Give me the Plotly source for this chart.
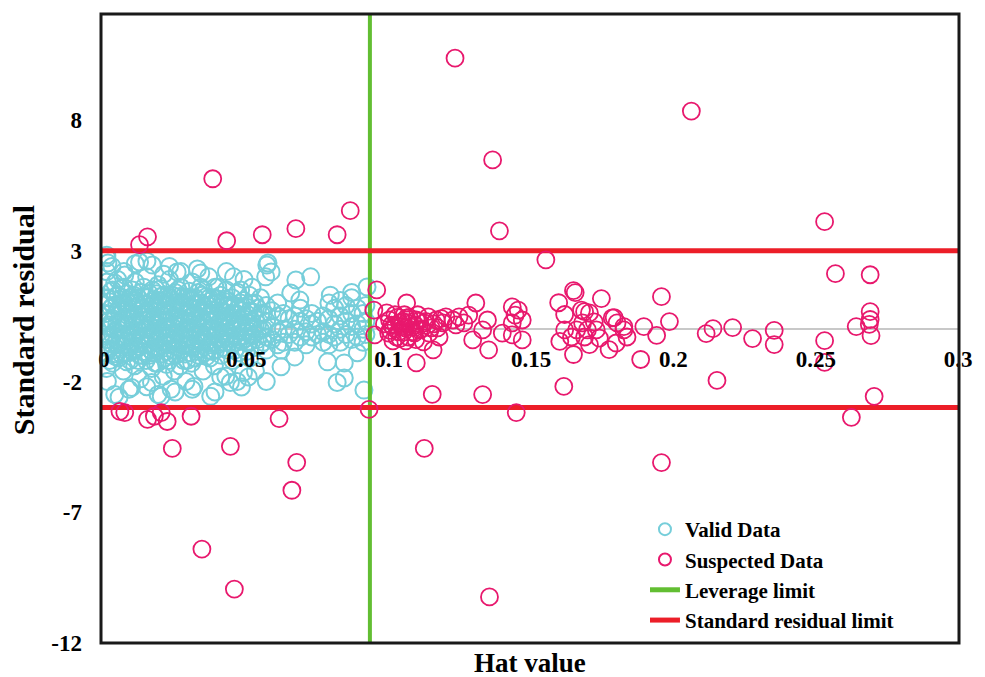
import plotly.graph_objects as go

# ---------------- data ----------------
leverage_limit = 0.0934
residual_limit = 3.0
x_range = [-0.00104, 0.3003]
y_range = [-12.0, 12.05]
y_tickvals = [-12, -7, -2, 3, 8]
y_ticktext = ["-12", "-7", "-2", "3", "8"]
x_tickvals = [0, 0.05, 0.1, 0.15, 0.2, 0.25, 0.3]
x_ticktext = ["0", "0.05", "0.1", "0.15", "0.2", "0.25", "0.3"]

# Valid data (hat value, standard residual) - dense core
valid_core_a = [
    (0.001, 2.73), (0.001, 2.2), (0.0012, 1.8), (0.001, 1.2), (0.0008, 0.6), (0.001, 0.1), (0.0011, -0.4), (0.0009, -0.9), (0.001, -1.5), (0.0012, -2.0),
    (0.003, 1.5), (0.0032, 0.9), (0.0029, 0.3), (0.003, -0.2), (0.0031, -0.8), (0.003, -1.3), (0.0028, 2.4),
    (0.005, 1.3), (0.0052, 0.7), (0.0049, 0.0), (0.005, -0.6), (0.0051, -1.1), (0.0053, -2.6), (0.0048, 1.9),
    (0.007, 1.6), (0.0071, 1.0), (0.0069, 0.4), (0.007, -0.3), (0.0072, -0.9), (0.0068, -1.6), (0.007, 2.2),
    (0.009, 1.2), (0.0091, 0.6), (0.0089, -0.1), (0.009, -0.7), (0.0092, -1.2), (0.0088, -2.3),
    (0.011, 1.8), (0.0112, 1.1), (0.0109, 0.5), (0.011, -0.2), (0.0111, -0.8), (0.0108, -1.4), (0.011, 2.5),
    (0.013, 1.4), (0.0131, 0.8), (0.0129, 0.2), (0.013, -0.4), (0.0132, -1.0), (0.0128, -1.9),
    (0.015, 2.0), (0.0151, 1.2), (0.0149, 0.6), (0.015, 0.0), (0.0152, -0.6), (0.0148, -1.2), (0.015, -2.2), (0.0151, 2.6),
    (0.017, 1.5), (0.0171, 0.9), (0.0169, 0.3), (0.017, -0.3), (0.0172, -0.9), (0.0168, -1.5),
    (0.019, 1.7), (0.0191, 1.1), (0.0189, 0.5), (0.019, -0.1), (0.0192, -0.7), (0.0188, -1.3), (0.019, -2.5),
    (0.021, 1.3), (0.0211, 0.7), (0.0209, 0.1), (0.021, -0.5), (0.0212, -1.1), (0.0208, -1.8), (0.021, 2.1),
    (0.023, 1.9), (0.0231, 1.2), (0.0229, 0.6), (0.023, 0.0), (0.0232, -0.6), (0.0228, -1.2), (0.023, 2.4),
    (0.025, 1.4), (0.0251, 0.8), (0.0249, 0.2), (0.025, -0.4), (0.0252, -1.0), (0.0248, -1.6), (0.025, -2.4),
    (0.027, 1.6), (0.0271, 1.0), (0.0269, 0.4), (0.027, -0.2), (0.0272, -0.8), (0.0268, -1.4), (0.027, 2.2),
    (0.029, 1.2), (0.0291, 0.6), (0.0289, 0.0), (0.029, -0.6), (0.0292, -1.2), (0.0288, -2.0),
    (0.031, 1.8), (0.0311, 1.1), (0.0309, 0.5), (0.031, -0.1), (0.0312, -0.7), (0.0308, -1.3), (0.031, -2.3),
    (0.033, 1.4), (0.0331, 0.8), (0.0329, 0.2), (0.033, -0.4), (0.0332, -1.0), (0.0328, 2.3),
    (0.035, 1.5), (0.0351, 0.9), (0.0349, 0.3), (0.035, -0.3), (0.0352, -0.9), (0.0348, -1.6),
    (0.037, 1.2), (0.0371, 0.6), (0.0369, 0.0), (0.037, -0.6), (0.0372, -1.1), (0.0368, 2.0),
    (0.039, 1.6), (0.0391, 1.0), (0.0389, 0.4), (0.039, -0.2), (0.0392, -0.8), (0.0388, -1.4), (0.039, -2.4),
    (0.041, 1.3), (0.0411, 0.7), (0.0409, 0.1), (0.041, -0.5), (0.0412, -1.0),
    (0.043, 1.5), (0.0431, 0.9), (0.0429, 0.3), (0.043, -0.3), (0.0432, -0.8), (0.0428, -1.8), (0.043, 2.2),
    (0.045, 1.2), (0.0451, 0.6), (0.0449, 0.0), (0.045, -0.6), (0.0452, -1.2),
    (0.047, 1.4), (0.0471, 0.8), (0.0469, 0.2), (0.047, -0.4), (0.0472, -0.9), (0.0468, -2.0),
    (0.049, 1.1), (0.0491, 0.5), (0.0489, -0.1), (0.049, -0.7), (0.0492, 1.9),
    (0.051, 1.3), (0.0511, 0.7), (0.0509, 0.1), (0.051, -0.5), (0.0512, -1.1),
    (0.053, 1.0), (0.0531, 0.4), (0.0529, -0.2), (0.053, -0.7), (0.0532, -1.6),
    (0.055, 1.2), (0.0551, 0.6), (0.0549, 0.0), (0.055, -0.6),
    (0.057, 0.9), (0.0571, 0.3), (0.0569, -0.3), (0.057, -0.8), (0.0572, 2.45), (0.0568, 2.0), (0.057, -2.0),
]

valid_core_b = [
    (0.002, 1.05), (0.002, 0.35), (0.002, -0.25), (0.002, -0.75), (0.002, -1.2),
    (0.004, 1.25), (0.004, 0.55), (0.004, -0.05), (0.004, -0.55), (0.004, -1.05),
    (0.006, 0.95), (0.006, 0.25), (0.006, -0.35), (0.006, -0.95), (0.006, 1.55),
    (0.008, 1.35), (0.008, 0.75), (0.008, 0.15), (0.008, -0.45), (0.008, -1.25),
    (0.010, 1.0), (0.010, 0.4), (0.010, -0.2), (0.010, -0.85), (0.010, 1.5),
    (0.012, 1.2), (0.012, 0.55), (0.012, -0.05), (0.012, -0.65), (0.012, -1.2),
    (0.014, 0.95), (0.014, 0.35), (0.014, -0.25), (0.014, -0.85), (0.014, 1.6),
    (0.016, 1.35), (0.016, 0.75), (0.016, 0.15), (0.016, -0.4), (0.016, -1.0),
    (0.018, 1.0), (0.018, 0.45), (0.018, -0.2), (0.018, -0.75), (0.018, -1.3),
    (0.020, 1.25), (0.020, 0.6), (0.020, 0.0), (0.020, -0.6), (0.020, 1.55),
    (0.022, 0.95), (0.022, 0.35), (0.022, -0.25), (0.022, -0.85), (0.022, -1.35),
    (0.024, 1.3), (0.024, 0.7), (0.024, 0.1), (0.024, -0.45), (0.024, -1.05),
    (0.026, 1.05), (0.026, 0.45), (0.026, -0.15), (0.026, -0.7), (0.026, 1.5),
    (0.028, 1.25), (0.028, 0.55), (0.028, -0.05), (0.028, -0.65), (0.028, -1.2),
    (0.030, 0.9), (0.030, 0.3), (0.030, -0.3), (0.030, -0.9), (0.030, 1.45),
    (0.032, 1.2), (0.032, 0.6), (0.032, 0.0), (0.032, -0.55), (0.032, -1.1),
    (0.034, 1.0), (0.034, 0.4), (0.034, -0.2), (0.034, -0.75), (0.034, 1.6),
    (0.036, 1.25), (0.036, 0.65), (0.036, 0.05), (0.036, -0.5), (0.036, -1.05),
    (0.038, 0.95), (0.038, 0.35), (0.038, -0.25), (0.038, -0.85),
    (0.040, 1.15), (0.040, 0.55), (0.040, -0.05), (0.040, -0.6), (0.040, 1.6),
    (0.042, 0.95), (0.042, 0.35), (0.042, -0.2), (0.042, -0.7),
    (0.044, 1.05), (0.044, 0.45), (0.044, -0.15), (0.044, -0.5),
    (0.046, 0.9), (0.046, 0.3), (0.046, -0.25), (0.046, -0.8),
    (0.048, 1.0), (0.048, 0.35), (0.048, -0.3), (0.048, 1.5),
    (0.050, 0.85), (0.050, 0.25), (0.050, -0.35), (0.050, -0.85),
    (0.052, 0.95), (0.052, 0.3), (0.052, -0.25), (0.052, 1.6),
    (0.054, 0.8), (0.054, 0.2), (0.054, -0.4),
    (0.056, 0.6), (0.056, 0.0), (0.056, -0.5),
]

valid_core_c = [
    (0.0025, 0.8), (0.0025, 0.1), (0.0025, -0.55), (0.0025, 1.45),
    (0.0045, 0.95), (0.0045, 0.2), (0.0045, -0.4), (0.0045, -0.95),
    (0.0065, 0.7), (0.0065, 0.05), (0.0065, -0.6), (0.0065, 1.2),
    (0.0085, 1.0), (0.0085, 0.3), (0.0085, -0.3), (0.0085, -0.9),
    (0.0105, 0.75), (0.0105, 0.1), (0.0105, -0.5), (0.0105, 1.3),
    (0.0125, 0.9), (0.0125, 0.25), (0.0125, -0.35), (0.0125, -1.0),
    (0.0145, 0.65), (0.0145, 0.0), (0.0145, -0.6), (0.0145, 1.25),
    (0.0165, 1.05), (0.0165, 0.45), (0.0165, -0.2), (0.0165, -0.8),
    (0.0185, 0.8), (0.0185, 0.15), (0.0185, -0.45), (0.0185, 1.35),
    (0.0205, 0.95), (0.0205, 0.3), (0.0205, -0.3), (0.0205, -0.95),
    (0.0225, 0.7), (0.0225, 0.05), (0.0225, -0.55), (0.0225, 1.3),
    (0.0245, 1.0), (0.0245, 0.4), (0.0245, -0.2), (0.0245, -0.8),
    (0.0265, 0.75), (0.0265, 0.1), (0.0265, -0.5), (0.0265, 1.25),
    (0.0285, 0.9), (0.0285, 0.25), (0.0285, -0.35), (0.0285, -0.95),
    (0.0305, 0.65), (0.0305, 0.0), (0.0305, -0.6), (0.0305, 1.2),
    (0.0325, 0.95), (0.0325, 0.35), (0.0325, -0.25), (0.0325, -0.85),
    (0.0345, 0.7), (0.0345, 0.1), (0.0345, -0.5), (0.0345, 1.3),
    (0.0365, 0.9), (0.0365, 0.3), (0.0365, -0.3), (0.0365, -0.8),
    (0.0385, 0.7), (0.0385, 0.05), (0.0385, -0.55), (0.0385, 1.2),
    (0.0405, 0.85), (0.0405, 0.25), (0.0405, -0.35),
    (0.0425, 0.65), (0.0425, 0.05), (0.0425, -0.5), (0.0425, 1.15),
    (0.0445, 0.8), (0.0445, 0.2), (0.0445, -0.35),
    (0.0465, 0.6), (0.0465, 0.0), (0.0465, -0.5),
    (0.0485, 0.7), (0.0485, 0.1), (0.0485, -0.45),
    (0.0505, 0.55), (0.0505, -0.05), (0.0505, -0.55),
    (0.0525, 0.65), (0.0525, 0.05),
]

valid_tail = [
    (0.059, 0.7), (0.059, 0.1), (0.059, -0.4), (0.0587, 2.19),
    (0.061, 0.5), (0.061, -0.1), (0.061, -0.6), (0.061, 1.0),
    (0.063, 0.6), (0.063, 0.0), (0.063, -0.5), (0.0622, -1.44), (0.0622, -0.8),
    (0.065, 0.4), (0.065, -0.2), (0.0656, 1.38), (0.0674, 1.88),
    (0.067, 0.5), (0.067, 0.0), (0.067, -0.5), (0.067, -1.06), (0.0688, 1.11),
    (0.069, 0.3), (0.069, -0.3), (0.069, 0.8),
    (0.071, 0.4), (0.071, -0.1), (0.071, -0.6), (0.0726, 2.0),
    (0.073, 0.2), (0.073, -0.3), (0.073, 0.6),
    (0.075, 0.3), (0.075, -0.2), (0.0785, -1.25),
    (0.077, 0.5), (0.077, -0.1), (0.077, -0.5),
    (0.079, 1.0), (0.079, 0.4), (0.079, -0.2), (0.079, -0.6), (0.0795, 1.3),
    (0.081, 0.8), (0.081, 0.2), (0.081, -0.3), (0.0819, -2.04),
    (0.083, 1.1), (0.083, 0.5), (0.083, 0.0), (0.083, -0.5), (0.0844, -1.87),
    (0.085, 0.9), (0.085, 0.3), (0.085, -0.2), (0.0844, -1.29),
    (0.087, 1.2), (0.087, 0.6), (0.087, 0.1), (0.087, -0.4), (0.087, 1.4),
    (0.089, 0.8), (0.089, 0.2), (0.089, -0.3), (0.089, -0.9),
    (0.091, 0.6), (0.091, 0.0), (0.091, -0.5), (0.0913, -2.33),
    (0.0924, 1.61), (0.092, 0.9), (0.092, 0.3), (0.092, -0.2),
]

valid_fringe = [
    (0.001, 2.83), (0.0014, 2.53), (0.0125, 2.57), (0.017, 2.45), (0.0257, 2.19),
    (0.034, 2.15), (0.0455, 2.0), (0.0073, 2.07), (0.0038, 1.76), (0.0576, 2.53),
    (0.0038, -2.5), (0.0097, -2.23), (0.0167, -2.04), (0.0236, -2.3), (0.0316, -2.19),
    (0.0375, -2.57), (0.0444, -2.04), (0.049, -1.66), (0.0201, -2.57), (0.041, -1.83),
    (0.0507, -1.83), (0.0483, -2.21),
]

# Suspected data (hat value, standard residual)
suspect_outer = [
    (0.1233, 10.36), (0.1365, 6.47), (0.1389, 3.76), (0.0382, 5.75), (0.0153, 3.53),
    (0.0125, 3.23), (0.0431, 3.38), (0.0556, 3.61), (0.0674, 3.84), (0.0819, 3.61),
    (0.0865, 4.53), (0.2063, 8.34), (0.2531, 4.11), (0.1552, 2.65), (0.2569, 2.12),
    (0.2691, 2.08), (0.1153, -2.49), (0.1330, -2.50), (0.1448, -3.19), (0.0931, -3.07),
    (0.1125, -4.56), (0.1354, -10.24), (0.0344, -8.41), (0.0458, -9.94), (0.0677, -5.09),
    (0.0660, -6.16), (0.0444, -4.48), (0.0240, -4.56), (0.0615, -3.42), (0.0306, -3.33),
    (0.0222, -3.53), (0.0153, -3.45), (0.0177, -3.33), (0.0073, -3.19), (0.0056, -3.14),
    (0.0201, -3.19), (0.1958, -5.10), (0.2705, -2.57), (0.2625, -3.37), (0.1615, -2.19),
    (0.2153, -1.96),
]

suspect_near = [
    (0.1958, 1.24), (0.1649, 1.47), (0.1655, 1.40), (0.1747, 1.17), (0.1597, 1.01),
    (0.1618, 0.56), (0.1688, 0.67), (0.1792, 0.44), (0.1826, 0.10), (0.1896, 0.10),
    (0.1986, 0.29), (0.1941, -0.24), (0.1885, -1.16), (0.1649, -0.97), (0.1601, -0.47),
    (0.1774, -0.78), (0.1705, -0.59), (0.2115, -0.17), (0.2139, 0.02), (0.2208, 0.06),
    (0.2278, -0.36), (0.2354, -0.05), (0.2354, -0.59), (0.2531, -0.44), (0.2531, -1.27),
    (0.2642, 0.10), (0.2691, 0.67), (0.2691, 0.37), (0.2688, 0.18), (0.2694, -0.25),
    (0.1618, -0.03), (0.1642, -0.30), (0.1660, -0.03), (0.1681, 0.24), (0.1698, -0.03),
    (0.1722, 0.28), (0.1729, -0.03), (0.1705, 0.62), (0.1677, 0.73), (0.1688, -0.30),
    (0.1740, -0.34), (0.1785, 0.43), (0.1802, 0.24), (0.1826, -0.03), (0.1837, -0.30),
    (0.1799, -0.53),
    (0.1003, 0.35), (0.1017, 0.05), (0.1038, 0.24), (0.1052, -0.11), (0.1063, 0.43),
    (0.1080, 0.08), (0.1097, 0.35), (0.1108, -0.03), (0.1125, 0.24), (0.1139, 0.47),
    (0.1149, 0.05), (0.1000, -0.15), (0.1028, -0.30), (0.1069, -0.30), (0.0993, 0.62),
    (0.1167, 0.35), (0.1191, 0.24), (0.1201, 0.47), (0.1226, 0.35), (0.1247, 0.47),
    (0.1264, 0.24), (0.1236, 0.16), (0.1177, -0.30), (0.1122, -0.49), (0.1156, -0.79),
    (0.1097, -1.29), (0.1063, 1.00), (0.0958, 1.50), (0.0948, 0.73), (0.0951, -0.22),
    (0.1306, 1.00), (0.1281, 0.54), (0.1347, 0.35), (0.1330, -0.03), (0.1295, -0.41),
    (0.1351, -0.79), (0.1399, -0.15), (0.1434, 0.85), (0.1455, 0.73), (0.1444, 0.54),
    (0.1469, 0.35), (0.1434, 0.24), (0.1434, -0.22), (0.1469, -0.41),
    (0.1010, 0.15), (0.1045, 0.10), (0.1075, 0.20), (0.1030, 0.45), (0.1090, -0.15),
]

suspect_blob = [
    (0.0985, 0.20), (0.1005, -0.05), (0.1022, 0.55), (0.1035, -0.10), (0.1048, 0.30),
    (0.1058, 0.05), (0.1072, 0.45), (0.1085, -0.10), (0.1093, 0.15), (0.1102, 0.55),
    (0.1115, 0.00), (0.1130, 0.30), (0.1142, -0.15), (0.1158, 0.20), (0.1172, 0.05),
    (0.1185, 0.40), (0.1040, -0.35), (0.1015, -0.45), (0.1060, -0.45), (0.1095, -0.40),
    (0.1105, 0.30), (0.1065, 0.25), (0.1025, 0.15), (0.1055, 0.55),
]

valid_pts = valid_core_a + valid_core_b + valid_core_c + valid_tail + valid_fringe
suspect_pts = suspect_outer + suspect_near + suspect_blob

# ---------------- styling ----------------
CYAN = "rgb(118,206,218)"
MAGENTA = "rgb(232,24,109)"
GREEN = "rgb(98,190,50)"
RED = "rgb(236,30,40)"
FONT = "Liberation Serif"

fig = go.Figure()

fig.add_trace(go.Scatter(
    x=[p[0] for p in valid_pts], y=[p[1] for p in valid_pts],
    mode="markers", name="Valid Data", legendrank=1,
    marker=dict(symbol="circle-open", size=17, color=CYAN, line=dict(width=2)),
))

fig.add_trace(go.Scatter(
    x=[leverage_limit, leverage_limit], y=y_range,
    mode="lines", name="Leverage limit", legendrank=3,
    line=dict(color=GREEN, width=4),
))

fig.add_trace(go.Scatter(
    x=[x_range[0], x_range[1], None, x_range[0], x_range[1]],
    y=[residual_limit, residual_limit, None, -residual_limit, -residual_limit],
    mode="lines", name="Standard residual limit", legendrank=4,
    line=dict(color=RED, width=5),
))

fig.add_trace(go.Scatter(
    x=[p[0] for p in suspect_pts], y=[p[1] for p in suspect_pts],
    mode="markers", name="Suspected Data", legendrank=2,
    marker=dict(symbol="circle-open", size=17, color=MAGENTA, line=dict(width=1.8)),
))

y_zero_frac = (0 - y_range[0]) / (y_range[1] - y_range[0])

fig.update_layout(
    width=985, height=677,
    margin=dict(l=101, r=16, t=14, b=34),
    paper_bgcolor="white", plot_bgcolor="white",
    font=dict(family=FONT, color="black", size=21, weight="bold"),
    showlegend=True,
    legend=dict(
        x=0.634, y=0.213, xanchor="left", yanchor="top",
        bgcolor="rgba(0,0,0,0)", itemsizing="constant",
        font=dict(family=FONT, size=21, color="black", weight="bold"),
        tracegroupgap=0,
    ),
    xaxis=dict(
        range=x_range, tickvals=x_tickvals, ticktext=x_ticktext,
        anchor="free", position=y_zero_frac,
        showgrid=False, zeroline=False, showline=False, ticks="",
        tickfont=dict(family=FONT, size=23, color="black", weight="bold"),
        ticklabelstandoff=14,
    ),
    yaxis=dict(
        range=y_range, tickvals=y_tickvals, ticktext=y_ticktext, showgrid=False,
        zeroline=True, zerolinecolor="rgb(200,200,200)", zerolinewidth=1.5,
        showline=False, ticks="",
        tickfont=dict(family=FONT, size=23, color="black", weight="bold"),
        ticklabelstandoff=18,
    ),
    shapes=[dict(type="rect", xref="paper", yref="paper", x0=0, x1=1, y0=0, y1=1,
                 line=dict(color="rgb(25,25,25)", width=3), layer="above")],
    annotations=[
        dict(text="Standard residual", xref="paper", yref="paper", x=-0.091, y=0.513,
             textangle=-90, showarrow=False, xanchor="center", yanchor="middle",
             font=dict(family=FONT, size=30, color="black", weight="bold")),
        dict(text="Hat value", xref="paper", yref="paper", x=0.5, y=-0.004,
             showarrow=False, xanchor="center", yanchor="top",
             font=dict(family=FONT, size=27, color="black", weight="bold")),
    ],
)

fig.write_html(
    "out.html",
    config={"displayModeBar": False},
    post_script="document.body.style.margin='0px';document.body.style.overflow='hidden';",
)
